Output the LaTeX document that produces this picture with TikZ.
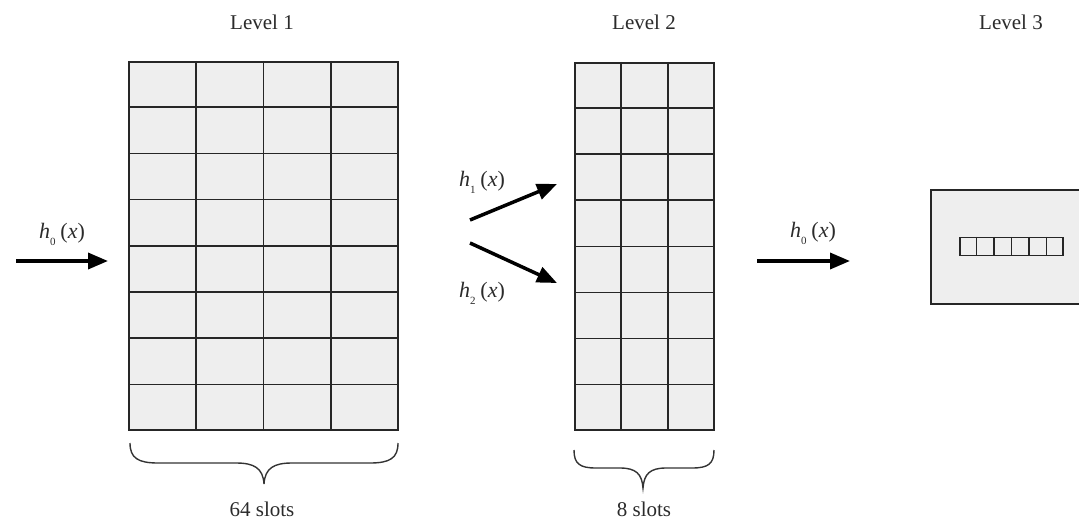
\documentclass[tikz,border=0pt]{standalone}
\usepackage{fontspec}
\setmainfont{Liberation Serif}
\usetikzlibrary{arrows.meta,calc}
\definecolor{cellfill}{HTML}{EEEEEE}
\definecolor{txt}{HTML}{2B2B2B}
\tikzset{
  box/.style={draw=black!85,line width=1.7pt,fill=cellfill,inner sep=0pt,anchor=north west},
  cell/.style={draw=black!85,line width=1.7pt},
  bigarrow/.style={line width=3.5pt,-{Triangle[length=20pt,width=16pt]}},
  lbl/.style={text=txt,font=\fontsize{21}{23}\selectfont,inner sep=0pt,anchor=base},
  hlbl/.style={text=txt,font=\fontsize{22}{24}\selectfont,inner sep=0pt,anchor=base},
  brace/.style={draw=black!80,line width=1.4pt},
}
\newcommand{\hsub}[1]{\textit{h}\raisebox{-0.32em}{\fontsize{11}{11}\selectfont #1}\hspace{0.22em}(\textit{x})}
\begin{document}
\begin{tikzpicture}[x=1pt,y=-1pt]
\useasboundingbox (0,0) rectangle (1079,519);
% Level 1 grid
\node[box,minimum width=269pt,minimum height=368pt] (L1) at (128,61) {};
\foreach \i in {1,2,3}
  \draw[cell] ($(L1.north west)!\i/4!(L1.north east)$) -- ($(L1.south west)!\i/4!(L1.south east)$);
\foreach \j in {1,...,7}
  \draw[cell] ($(L1.north west)!\j/8!(L1.south west)$) -- ($(L1.north east)!\j/8!(L1.south east)$);
% Level 2 grid
\node[box,minimum width=139pt,minimum height=367pt] (L2) at (574,62) {};
\foreach \i in {1,2}
  \draw[cell] ($(L2.north west)!\i/3!(L2.north east)$) -- ($(L2.south west)!\i/3!(L2.south east)$);
\foreach \j in {1,...,7}
  \draw[cell] ($(L2.north west)!\j/8!(L2.south west)$) -- ($(L2.north east)!\j/8!(L2.south east)$);
% Level 3 box
\node[box,minimum width=160pt,minimum height=114pt] (L3) at (930,189) {};
\node[draw=black!85,line width=1.5pt,fill=cellfill,inner sep=0pt,minimum width=103pt,minimum height=18pt] (S) at (1011.5,246.5) {};
\foreach \i in {1,...,5}
  \draw[line width=1.5pt,draw=black!85] ($(S.north west)!\i/6!(S.north east)$) -- ($(S.south west)!\i/6!(S.south east)$);
% titles
\node[lbl] (t1) at (262,30) {Level 1};
\node[lbl] (t2) at (644,30) {Level 2};
\node[lbl] (t3) at (1011,30) {Level 3};
% arrows
\coordinate (a0s) at (16,261);
\coordinate (a0e) at (108,261);
\draw[bigarrow] (a0s) -- (a0e);
\node[hlbl] (h0a) at (62,238) {\hsub{0}};
\coordinate (a1s) at (470,220);
\coordinate (a1e) at (557,184);
\draw[bigarrow] (a1s) -- (a1e);
\node[hlbl] (h1) at (482,186) {\hsub{1}};
\coordinate (a2s) at (470,243);
\coordinate (a2e) at (557,283);
\draw[bigarrow] (a2s) -- (a2e);
\node[hlbl] (h2) at (482,297) {\hsub{2}};
\coordinate (a3s) at (757,261);
\coordinate (a3e) at (850,261);
\draw[bigarrow] (a3s) -- (a3e);
\node[hlbl] (h0b) at (813,237) {\hsub{0}};
% braces
\draw[brace] (130,443) .. controls (130,458) and (138,463) .. (158,463) -- (236,463)
  .. controls (254,463) and (263,468) .. (264,484)
  .. controls (265,468) and (274,463) .. (292,463) -- (370,463)
  .. controls (390,463) and (398,458) .. (398,443);
\node[lbl] (s1) at (262,516) {64 slots};
\draw[brace] (574,450) .. controls (574,464) and (580,468) .. (596,468) -- (620,468)
  .. controls (636,468) and (642,474) .. (643,488)
  .. controls (644,474) and (650,468) .. (666,468) -- (692,468)
  .. controls (708,468) and (714,464) .. (714,450);
\node[lbl] (s2) at (644,516) {8 slots};
\end{tikzpicture}
\end{document}
